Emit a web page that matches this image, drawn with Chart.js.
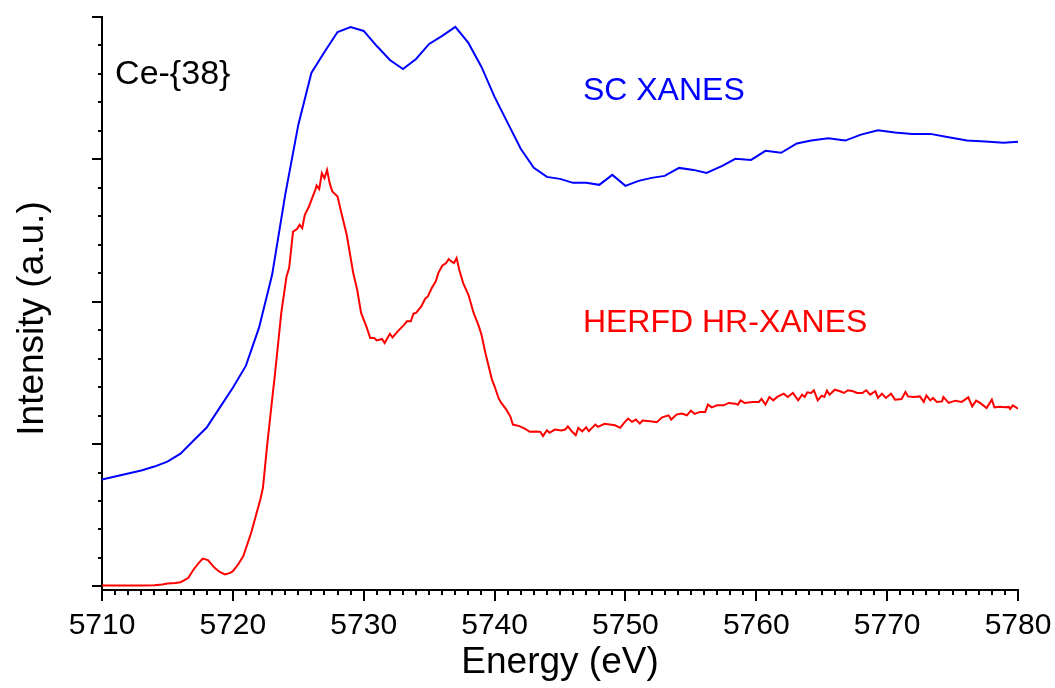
<!DOCTYPE html>
<html>
<head>
<meta charset="utf-8">
<title>Ce-{38} SC XANES vs HERFD HR-XANES</title>
<script src="https://cdn.jsdelivr.net/npm/chart.js@4.4.1/dist/chart.umd.min.js"></script>
<style>
    html, body { margin: 0; padding: 0; background: #fff; }
    #wrap { width: 1055px; height: 688px; }
</style>
</head>
<body>
<div id="wrap"><canvas id="xanes-chart" width="1055" height="688"></canvas></div>
<script>
// Ce L3-edge spectra of Ce-{38}

// conventional XANES (coarse energy grid)
const scEnergy = [
    5710, 5711, 5712, 5713, 5714, 5715, 5716, 5717, 5718, 5719,
    5720, 5721, 5722, 5723, 5724, 5725, 5726, 5727, 5728, 5729,
    5730, 5731, 5732, 5733, 5734, 5735, 5736, 5737, 5738, 5739,
    5740, 5741, 5742, 5743, 5744, 5745, 5746, 5747, 5748, 5749,
    5750, 5751, 5752, 5753, 5754.1, 5755.2, 5756.2, 5757.4, 5758.4, 5759.6,
    5760.7, 5761.9, 5763.1, 5764.2, 5765.5, 5766.8, 5768.0, 5769.3, 5770.6, 5771.9,
    5773.3, 5774.7, 5776.1, 5777.5, 5778.9, 5780
];
const scIntensity = [
    0.751, 0.772, 0.793, 0.814, 0.842, 0.877, 0.933, 1.025, 1.116, 1.256,
    1.396, 1.551, 1.818, 2.189, 2.751, 3.242, 3.607, 3.754, 3.895, 3.930,
    3.902, 3.796, 3.698, 3.635, 3.705, 3.811, 3.867, 3.930, 3.818, 3.649,
    3.439, 3.256, 3.074, 2.940, 2.877, 2.863, 2.835, 2.835, 2.821, 2.891,
    2.814, 2.849, 2.870, 2.884, 2.940, 2.926, 2.905, 2.954, 3.004, 2.996,
    3.060, 3.046, 3.112, 3.132, 3.149, 3.132, 3.174, 3.205, 3.188, 3.179,
    3.179, 3.156, 3.132, 3.125, 3.116, 3.123
];

// high energy resolution fluorescence detected XANES
const hrEnergy = [
    5710.0, 5711.0, 5712.0, 5713.0, 5714.0, 5714.6, 5715.0, 5715.6, 5716.0, 5716.3,
    5716.6, 5717.0, 5717.4, 5717.7, 5718.1, 5718.6, 5719.0, 5719.4, 5719.8, 5720.0,
    5720.4, 5720.8, 5721.4, 5722.1, 5722.3, 5722.6, 5723.0, 5723.2, 5723.7, 5724.1,
    5724.3, 5724.6, 5724.9, 5725.1, 5725.3, 5725.5, 5725.8, 5726.3, 5726.4, 5726.6,
    5726.8, 5727.0, 5727.2, 5727.4, 5727.6, 5728.0, 5728.3, 5728.7, 5729.2, 5729.5,
    5729.8, 5730.2, 5730.5, 5730.8, 5731.0, 5731.4, 5731.6, 5732.0, 5732.2, 5732.6,
    5733.1, 5733.3, 5733.6, 5733.8, 5734.0, 5734.4, 5734.7, 5734.9, 5735.2, 5735.5,
    5735.7, 5736.0, 5736.3, 5736.5, 5736.7, 5736.9, 5737.1, 5737.3, 5737.6, 5738.0,
    5738.4, 5738.8, 5739.0, 5739.3, 5739.8, 5740.0, 5740.3, 5740.5, 5740.9, 5741.2,
    5741.4, 5741.9, 5742.3, 5742.7, 5743.2, 5743.5, 5743.7, 5744.0, 5744.2, 5744.6,
    5745.1, 5745.4, 5745.6, 5745.9, 5746.2, 5746.4, 5746.7, 5747.0, 5747.2, 5747.7,
    5747.9, 5748.4, 5748.8, 5749.2, 5749.6, 5749.9, 5750.2, 5750.5, 5750.8, 5751.1,
    5751.3, 5751.9, 5752.4, 5752.8, 5753.3, 5753.5, 5753.9, 5754.3, 5754.7, 5755.0,
    5755.3, 5755.7, 5756.1, 5756.3, 5756.6, 5757.0, 5757.5, 5757.9, 5758.4, 5758.6,
    5758.8, 5759.1, 5759.7, 5760.2, 5760.4, 5760.7, 5761.0, 5761.3, 5761.6, 5762.1,
    5762.4, 5762.8, 5763.2, 5763.5, 5763.7, 5763.9, 5764.2, 5764.4, 5764.7, 5765.0,
    5765.2, 5765.4, 5765.6, 5766.0, 5766.4, 5766.7, 5767.0, 5767.4, 5767.7, 5768.1,
    5768.4, 5768.7, 5769.1, 5769.3, 5769.6, 5769.9, 5770.3, 5770.6, 5771.1, 5771.4,
    5771.6, 5772.0, 5772.5, 5772.8, 5773.0, 5773.3, 5773.5, 5773.8, 5774.2, 5774.3,
    5774.7, 5775.2, 5775.7, 5776.2, 5776.5, 5776.8, 5777.1, 5777.6, 5778.0, 5778.2,
    5778.6, 5779.0, 5779.3, 5779.4, 5779.6, 5780.0
];
const hrIntensity = [
    0.007, 0.006, 0.007, 0.007, 0.009, 0.014, 0.021, 0.025, 0.030, 0.044,
    0.061, 0.119, 0.166, 0.196, 0.185, 0.131, 0.102, 0.084, 0.095, 0.107,
    0.154, 0.213, 0.377, 0.611, 0.693, 0.973, 1.312, 1.476, 1.921, 2.177,
    2.236, 2.493, 2.510, 2.540, 2.517, 2.611, 2.665, 2.786, 2.816, 2.791,
    2.903, 2.868, 2.926, 2.833, 2.774, 2.739, 2.622, 2.470, 2.201, 2.084,
    1.921, 1.827, 1.745, 1.745, 1.728, 1.738, 1.710, 1.775, 1.749, 1.792,
    1.839, 1.862, 1.862, 1.916, 1.921, 1.967, 2.021, 2.037, 2.096, 2.142,
    2.201, 2.253, 2.272, 2.300, 2.283, 2.272, 2.307, 2.225, 2.131, 2.049,
    1.921, 1.827, 1.768, 1.640, 1.453, 1.406, 1.324, 1.291, 1.242, 1.195,
    1.137, 1.126, 1.109, 1.086, 1.088, 1.086, 1.056, 1.097, 1.079, 1.102,
    1.095, 1.102, 1.125, 1.090, 1.062, 1.114, 1.090, 1.118, 1.090, 1.137,
    1.121, 1.142, 1.137, 1.132, 1.114, 1.149, 1.179, 1.156, 1.172, 1.144,
    1.165, 1.160, 1.153, 1.188, 1.202, 1.172, 1.207, 1.214, 1.202, 1.235,
    1.212, 1.226, 1.226, 1.277, 1.258, 1.272, 1.272, 1.289, 1.284, 1.277,
    1.307, 1.289, 1.296, 1.296, 1.317, 1.277, 1.330, 1.307, 1.331, 1.354,
    1.331, 1.359, 1.307, 1.347, 1.331, 1.364, 1.359, 1.378, 1.307, 1.340,
    1.331, 1.375, 1.347, 1.382, 1.371, 1.359, 1.378, 1.371, 1.359, 1.359,
    1.378, 1.347, 1.371, 1.324, 1.354, 1.324, 1.354, 1.312, 1.317, 1.366,
    1.335, 1.331, 1.335, 1.296, 1.342, 1.307, 1.324, 1.296, 1.300, 1.331,
    1.289, 1.305, 1.296, 1.328, 1.265, 1.305, 1.289, 1.254, 1.312, 1.258,
    1.263, 1.258, 1.261, 1.247, 1.272, 1.249
];

// axis ranges and tick marks (no numbers on the intensity axis)
const energyRange = [5710, 5780];
const energyLabels = ['5710', '5720', '5730', '5740', '5750', '5760', '5770', '5780'];
const intensityRange = [-0.025, 4];
const intensityTicks = [0, 0.2, 0.4, 0.6, 0.8, 1.0, 1.2, 1.4, 1.6, 1.8, 2.0,
    2.2, 2.4, 2.6, 2.8, 3.0, 3.2, 3.4, 3.6, 3.8, 4.0];

const FONT = "'Liberation Sans', Arial, Helvetica, sans-serif";

// text placed on the plot, anchored in data coordinates
const notes = [
    { text: 'Ce-{38}', energy: 5711.0, value: 3.53, color: '#000000', size: 34 },
    { text: 'SC XANES', energy: 5746.75, value: 3.42, color: '#0000ff', size: 32 },
    { text: 'HERFD HR-XANES', energy: 5746.75, value: 1.79, color: '#ff0000', size: 32 }
];

function toPoints(xs, ys) {
    return xs.map((x, i) => ({ x: x, y: ys[i] }));
}

// outward tick marks, long for majors and short for minors
const tickMarks = {
    id: 'tickMarks',
    afterDraw(chart) {
        const { ctx, chartArea, scales } = chart;
        ctx.save();
        ctx.strokeStyle = '#000';
        ctx.lineWidth = 2;
        ctx.beginPath();
        for (let e = energyRange[0]; e <= energyRange[1]; e++) {
            const px = Math.round(scales.x.getPixelForValue(e));
            const len = energyLabels.includes(String(e)) ? 11 : 5;
            ctx.moveTo(px, chartArea.bottom);
            ctx.lineTo(px, chartArea.bottom + len);
        }
        intensityTicks.forEach((v, i) => {
            const py = Math.round(scales.y.getPixelForValue(v));
            const len = i % 5 === 0 ? 10 : 4;
            ctx.moveTo(chartArea.left - len, py);
            ctx.lineTo(chartArea.left, py);
        });
        ctx.stroke();
        ctx.restore();
    }
};

// curve labels plus the rotated intensity axis title
const plotNotes = {
    id: 'plotNotes',
    afterDraw(chart) {
        const { ctx, chartArea, scales } = chart;
        ctx.save();
        ctx.textAlign = 'left';
        ctx.textBaseline = 'alphabetic';
        notes.forEach(n => {
            ctx.font = n.size + 'px ' + FONT;
            ctx.fillStyle = n.color;
            ctx.fillText(n.text, scales.x.getPixelForValue(n.energy), scales.y.getPixelForValue(n.value));
        });
        ctx.translate(33, (chartArea.top + chartArea.bottom) / 2 + 15);
        ctx.rotate(-Math.PI / 2);
        ctx.font = '37px ' + FONT;
        ctx.fillStyle = '#000';
        ctx.textAlign = 'center';
        ctx.textBaseline = 'middle';
        ctx.fillText('Intensity (a.u.)', 0, 0);
        ctx.restore();
    }
};

function initChart() {
    const ctx = document.getElementById('xanes-chart').getContext('2d');
    new Chart(ctx, {
        type: 'line',
        data: {
            datasets: [{
                label: 'SC XANES',
                data: toPoints(scEnergy, scIntensity),
                borderColor: '#0000ff',
                borderWidth: 2,
                pointRadius: 0,
                tension: 0
            }, {
                label: 'HERFD HR-XANES',
                data: toPoints(hrEnergy, hrIntensity),
                borderColor: '#ff0000',
                borderWidth: 2,
                pointRadius: 0,
                tension: 0
            }]
        },
        options: {
            responsive: false,
            animation: false,
            devicePixelRatio: 1,
            layout: { padding: { top: 17, right: 37, left: 0, bottom: 0 } },
            plugins: {
                legend: { display: false },
                tooltip: { enabled: false }
            },
            scales: {
                x: {
                    type: 'linear',
                    min: energyRange[0],
                    max: energyRange[1],
                    grid: { display: false, drawTicks: false },
                    border: { color: '#000', width: 2 },
                    ticks: {
                        stepSize: 1,
                        autoSkip: false,
                        maxRotation: 0,
                        padding: 18,
                        color: '#000',
                        font: { family: FONT, size: 30 },
                        callback: v => energyLabels.includes(String(v)) ? String(v) : ''
                    },
                    title: {
                        display: true,
                        text: 'Energy (eV)',
                        color: '#000',
                        font: { family: FONT, size: 37 },
                        padding: { top: 0, bottom: 3 }
                    },
                    afterFit: scale => {
                        scale.height = 98;
                        // end labels may hang into the margins
                        scale.paddingLeft = 0;
                        scale.paddingRight = 0;
                    }
                },
                y: {
                    type: 'linear',
                    min: intensityRange[0],
                    max: intensityRange[1],
                    grid: { display: false, drawTicks: false },
                    border: { color: '#000', width: 2 },
                    ticks: { display: false },
                    afterFit: scale => { scale.width = 102; }
                }
            }
        },
        plugins: [tickMarks, plotNotes]
    });
}

document.addEventListener('DOMContentLoaded', initChart);
</script>
</body>
</html>
